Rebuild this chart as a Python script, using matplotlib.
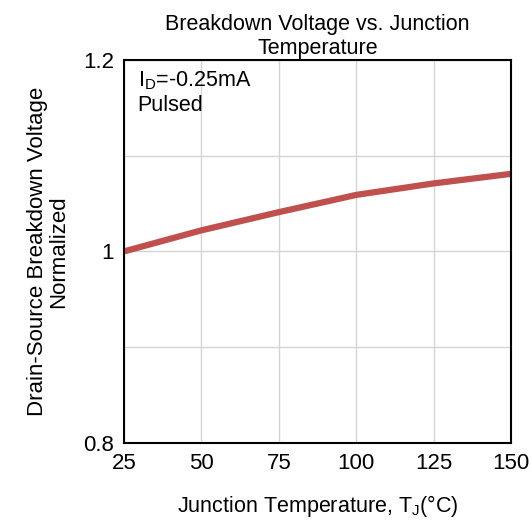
import matplotlib
matplotlib.use("Agg")
import matplotlib.pyplot as plt

plt.rcParams['font.family'] = ['Liberation Sans', 'DejaVu Sans']

temps = [25, 50, 75, 100, 125, 150]
bv_norm = [1.000, 1.022, 1.041, 1.059, 1.071, 1.081]
xticks = [25, 50, 75, 100, 125, 150]
yticks = [0.8, 0.9, 1.0, 1.1, 1.2]
ytick_labels = ["0.8", "", "1", "", "1.2"]

fig = plt.figure(figsize=(5.32, 5.2), dpi=100)
ax = fig.add_axes([0.233, 0.148, 0.728, 0.737])

ax.plot(temps, bv_norm, color='#C0504D', linewidth=4.5, solid_capstyle='butt')

ax.set_xlim(25, 150)
ax.set_ylim(0.8, 1.2)
ax.set_xticks(xticks)
ax.set_yticks(yticks)
ax.set_yticklabels(ytick_labels)
ax.grid(True, color='#D4D4D4', linewidth=1)
ax.set_axisbelow(True)
ax.tick_params(length=0, labelsize=16, pad=7)
for s in ax.spines.values():
    s.set_linewidth(1.5)
    s.set_color('black')

ax.set_title("Breakdown Voltage vs. Junction\nTemperature", fontsize=15.5, pad=4, linespacing=1.2)
ax.set_xlabel("Junction Temperature, T$_\\mathregular{J}$(°C)", fontsize=15.5, labelpad=14)
ax.set_ylabel("Drain-Source Breakdown Voltage\nNormalized", fontsize=16, labelpad=10, linespacing=1.0)

ax.text(0.035, 0.975, "I$_\\mathregular{D}$=-0.25mA\nPulsed", transform=ax.transAxes,
        fontsize=15.5, va='top', ha='left', linespacing=1.2)

fig.savefig("out.png", dpi=100)
